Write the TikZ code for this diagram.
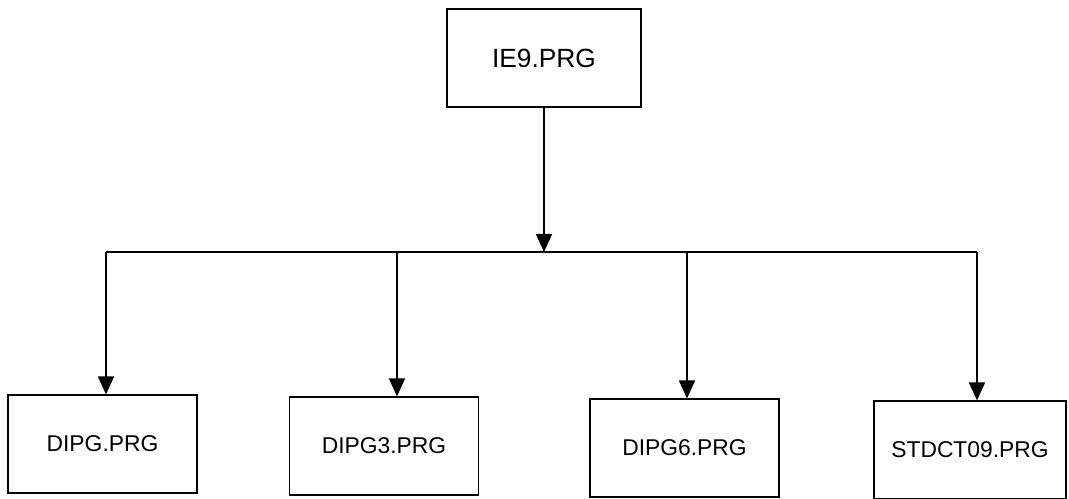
\documentclass[tikz,border=0pt]{standalone}
\usepackage{fontspec}
\setmainfont{Liberation Sans}
\usetikzlibrary{arrows.meta}

\begin{document}
\begin{tikzpicture}[
    x=0.02cm, y=-0.02cm,
    b/.style={rectangle, draw, line width=0.7pt, minimum width=3.78cm, minimum height=1.96cm, font=\fontsize{13}{15}\selectfont, inner sep=2pt},
    a/.style={-{Triangle[length=0.36cm, width=0.32cm]}, line width=1pt},
    l/.style={line width=1pt},
]
\useasboundingbox (0,0) rectangle (1069,499);

\node[b, minimum width=3.88cm, font=\fontsize{15}{18}\selectfont] (ie9) at (544,58) {IE9.PRG};

\node[b] (dipg) at (102.5,444) {DIPG.PRG};
\node[b] (dipg3) at (384,446) {DIPG3.PRG};
\node[b] (dipg6) at (684.5,448) {DIPG6.PRG};
\node[b, minimum width=3.84cm] (stdct) at (970,450) {STDCT09.PRG};

% bus line and junctions
\coordinate (bus) at (544,252);
\coordinate (j1) at (106,252);
\coordinate (j2) at (397,252);
\coordinate (j3) at (687,252);
\coordinate (j4) at (977,252);

\draw[a] (ie9) -- (bus);
\draw[l] (j1) -- (j4);
\draw[a] (j1) -- (j1 |- dipg.north);
\draw[a] (j2) -- (j2 |- dipg3.north);
\draw[a] (j3) -- (j3 |- dipg6.north);
\draw[a] (j4) -- (j4 |- stdct.north);
\end{tikzpicture}
\end{document}
